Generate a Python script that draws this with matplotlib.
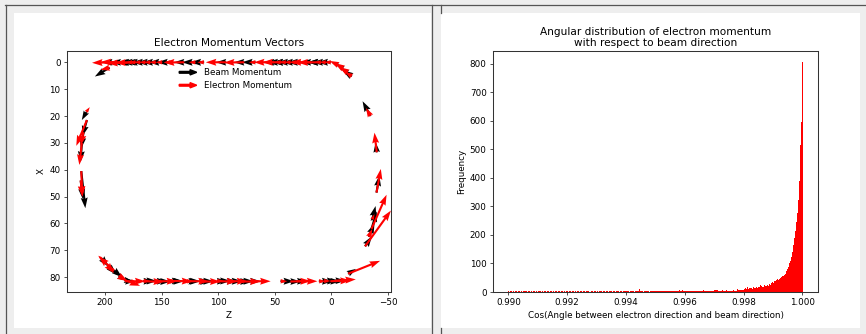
import numpy as np
import matplotlib
matplotlib.use('Agg')
import matplotlib.pyplot as plt
import matplotlib.patches as mpatches
from matplotlib.lines import Line2D
from matplotlib.legend_handler import HandlerPatch

# ---- momentum vectors: hit position (Z, X) and momentum components (dZ, dX)
# groups: top row, top-left, left side, bottom-left bend, bottom row, right side, top-right bend
pos_z = [193.5, 186, 180, 176, 173, 173, 168.5, 164, 159.7, 155, 149.4, 142, 130, 120, 112.5,
         93, 77, 67, 50.5, 44.6, 43, 40, 35.8, 31.4, 27, 18, 12, 9, 4.8, 0.4,
         196,
         216.5, 216, 219, 220.5, 221, 221.5,
         203, 198, 192, 188, 183,
         182.3, 166, 166, 154.3, 154, 142.4, 141, 127.7, 126.3, 116, 115.9, 101.2, 101,
         92.3, 90.8, 80.6, 80.5, 71.7, 45, 36.3, 30.4, 11.1, 6.7, 1, -3.5,
         -14.7, -29.7, -35.4, -33, -36, -39.8, -40, -34.5,
         -18, -14.5, -10.5, -6]
pos_x = [0, 0, 0.1, 0, 0, 0, 0, 0, 0, 0, 0, 0, 0, 0, 0,
         0, 0, 0, 0, 0, 0, 0, 0, 0, 0, 0, 0, 0, 0, 0,
         2.0,
         18.5, 21.5, 26, 30, 40.5, 44,
         73, 75.5, 77.5, 79.5, 81,
         81.5, 81.5, 81.4, 81.5, 81.6, 81.5, 81.4, 81.5, 81.5, 81.6, 81.5, 81.5, 81.4,
         81.5, 81.5, 81.6, 81.5, 81.5, 81.5, 81.6, 81.5, 81.5, 81.4, 81.5, 81.3,
         78.7, 68.5, 62, 65, 58.5, 48.5, 33.5, 20,
         5.2, 3.8, 2.3, 1.0]
beam_dz = [9, 9, 9, 12, 9, 12, 12, 12, 12, 12, 12, 12, 9, 12, 12,
           9, 9, 12, 9, 12, 9, 12, 12, 12, 12, 9, 9, 12, 12, 12,
           13,
           4, 4, 2, 1, -3.6, -2,
           -6, -8, -7, -7, -8,
           -9, -9, -12, -9, -12, -12, -9, -12, -9, -9, -12, -9, -12,
           -9, -12, -9, -12, -9, -12, -9, -9, -12, -12, -9, -9,
           -7, -6, -4.6, -5, -3, -2.5, 1, 7,
           8, 6, 6, 6]
beam_dx = [0, 0, 0, 0, 0, 0, 0, 0, 0, 0, 0, 0, 0, 0, 0,
           0, 0, 0, 0, 0, 0, 0, 0, 0, 0, 0, 0, 0, 0, 0,
           3.3,
           3, 6, 6, 7, 13.8, 7,
           3, 3.5, 2.5, 1.8, 0.7,
           0, 0, 0, 0, 0, 0, 0, 0, 0, 0, 0, 0, 0,
           0, 0, 0, 0, 0, 0, 0, 0, 0, 0, 0, 0,
           -1.8, -3.7, -6.5, -5, -5, -6.3, -3.7, -5.5,
           -2.2, -1.5, -1.5, -1.0]
elec_dz = [18, 18, 18, 6, 18, 6, 6, 6, 6, 6, 6, 6, 18, 6, 6,
           18, 18, 6, 18, 6, 18, 6, 6, 6, 6, 18, 18, 6, 6, 6,
           8,
           -3, 9.4, 2.5, 2.2, -1, -1.5,
           3, -6, 13.7, -8, -14,
           -18, -18, -6, -18, -6, -6, -18, -6, -18, -18, -6, -18, -6,
           -18, -6, -18, -6, -18, -6, -18, -18, -6, -6, -18, -18,
           -28.3, -22.8, -13.3, -3, -2, -3.8, 2, 4,
           6, 7.5, 7.5, 7.5]
elec_dx = [0.2, -0.1, 0.3, 0, 0.2, 0, 0, 0, 0, 0, 0, 0, 0.1, 0, 0,
           0, 0.1, 0, 0, 0, 0, 0, 0, 0, 0, 0, 0.1, 0, 0, 0,
           0.8,
           -1.8, 9.6, 5, 8.2, 9.5, 6,
           -1, 3, -5.2, 2, 2.2,
           0, 0.2, 0, 0, 0, 0, 0.1, 0, 0, 0, 0, 0.1, 0,
           0, 0, 0, 0, 0, 0, -0.2, 0, 0, 0, -0.3, -0.5,
           -4.8, -13.3, -12.7, -3, -2, -8.8, -7.3, -3,
           -1.6, -2.0, -2.0, -1.5]

# ---- histogram of cos(angle between electron and beam), 300 bins
cos_lo = 0.98998
cos_hi = 1.00003
cos_counts = [
    2, 1, 2, 2, 1, 2, 1, 2, 2, 1, 2, 2, 1, 2, 1, 2, 2, 1, 2, 2,
    1, 2, 2, 1, 2, 1, 2, 2, 1, 2, 1, 2, 2, 2, 1, 2, 1, 5, 2, 1,
    2, 2, 1, 2, 2, 1, 2, 1, 2, 2, 1, 2, 2, 1, 2, 2, 1, 2, 1, 2,
    2, 1, 2, 2, 1, 2, 2, 1, 2, 1, 2, 2, 1, 2, 2, 1, 2, 2, 1, 2,
    2, 2, 1, 2, 1, 2, 2, 1, 2, 2, 1, 2, 1, 2, 2, 2, 1, 2, 2, 1,
    2, 2, 1, 2, 2, 2, 1, 2, 2, 1, 2, 2, 2, 1, 2, 2, 1, 2, 2, 2,
    4, 2, 2, 1, 2, 2, 2, 2, 1, 2, 2, 2, 2, 9, 5, 2, 2, 1, 2, 2,
    2, 2, 2, 1, 2, 2, 3, 2, 2, 2, 1, 2, 2, 3, 2, 2, 2, 2, 3, 2,
    4, 2, 2, 3, 2, 4, 2, 3, 5, 2, 3, 2, 5, 3, 8, 2, 3, 6, 2, 3,
    5, 3, 2, 3, 5, 5, 3, 3, 3, 4, 3, 3, 3, 3, 3, 3, 3, 3, 6, 3,
    3, 3, 3, 3, 3, 3, 3, 3, 3, 7, 7, 6, 7, 3, 3, 3, 4, 4, 6, 4,
    4, 4, 6, 4, 5, 5, 5, 5, 5, 6, 5, 5, 5, 10, 6, 6, 6, 6, 7, 8,
    10, 15, 10, 18, 12, 15, 13, 15, 12, 16, 14, 14, 16, 15, 16, 17, 24, 20, 19, 18,
    25, 22, 20, 26, 22, 28, 25, 30, 35, 32, 40, 38, 42, 45, 43, 44, 50, 52, 55, 56,
    58, 62, 66, 72, 80, 86, 100, 110, 124, 140, 165, 190, 215, 245, 276, 322, 389, 516, 596, 805,
]

W, H = 866, 334
fig = plt.figure(figsize=(W / 100, H / 100), dpi=100, facecolor='#eeeeee')


def fx(px):
    return px / W


def fy(py):
    return 1 - py / H


# page background: two white cells and the dark frame lines
for x0, x1 in [(14, 431), (441, 860)]:
    fig.add_artist(mpatches.Rectangle((fx(x0), fy(328)), fx(x1) - fx(x0), fy(13) - fy(328),
                                      transform=fig.transFigure, facecolor='white',
                                      edgecolor='none', zorder=0))
frame = [((5, 866), (4.5, 4.5)), ((5.5, 5.5), (4.5, 334)), ((432.3, 432.3), (4.5, 334)),
         ((441, 441), (4.5, 13)), ((441, 441), (328, 334))]
for xs, ys in frame:
    fig.add_artist(Line2D([fx(xs[0]), fx(xs[1])], [fy(ys[0]), fy(ys[1])],
                          transform=fig.transFigure, color='#555555', lw=0.9))

fs = 6.3
plt.rcParams.update({'font.size': fs, 'axes.linewidth': 0.75, 'axes.edgecolor': '#333333',
                     'xtick.major.size': 2.4, 'ytick.major.size': 2.4,
                     'xtick.major.width': 0.6, 'ytick.major.width': 0.6,
                     'xtick.major.pad': 2.2, 'ytick.major.pad': 2.2,
                     'xtick.color': '#333333', 'ytick.color': '#333333',
                     'xtick.labelcolor': 'black', 'ytick.labelcolor': 'black'})

# ---- left: momentum vectors
ax1 = fig.add_axes([fx(67), fy(292), fx(391) - fx(67), fy(51) - fy(292)])
ax1.quiver(pos_z, pos_x, beam_dz, beam_dx, color='black', angles='xy',
           scale_units='xy', scale=1, width=0.0065, headwidth=3.3)
ax1.quiver(pos_z, pos_x, elec_dz, elec_dx, color='red', angles='xy',
           scale_units='xy', scale=1, width=0.0065, headwidth=3.3)
ax1.set_xlim(233.6, -52.6)
ax1.set_ylim(85.5, -4.2)
ax1.set_xticks([200, 150, 100, 50, 0, -50])
ax1.set_yticks(range(0, 81, 10))
ax1.set_xlabel('Z', labelpad=2.5)
ax1.set_ylabel('X', labelpad=2.5)
ax1.set_title('Electron Momentum Vectors', fontsize=7.6, pad=3.8)


def arrow_handle(legend, orig_handle, xdescent, ydescent, width, height, fontsize):
    return mpatches.FancyArrow(0, 0.5 * height, width, 0, width=0.28 * height,
                               head_width=0.85 * height, head_length=0.38 * width,
                               length_includes_head=True)


proxies = [mpatches.Patch(color='black', label='Beam Momentum'),
           mpatches.Patch(color='red', label='Electron Momentum')]
ax1.legend(handles=proxies, loc='upper center', bbox_to_anchor=(0.52, (292 - 64) / 241),
           frameon=False, fontsize=fs, borderpad=0, labelspacing=0.45,
           handler_map={mpatches.Patch: HandlerPatch(patch_func=arrow_handle)})

# ---- right: angular distribution
ax2 = fig.add_axes([fx(493), fy(292), fx(818) - fx(493), fy(51) - fy(292)])
edges = np.linspace(cos_lo, cos_hi, len(cos_counts) + 1)
ax2.hist(edges[:-1], bins=edges, weights=cos_counts, color='red')
ax2.set_xticks([0.990, 0.992, 0.994, 0.996, 0.998, 1.000])
ax2.set_xticklabels(['0.990', '0.992', '0.994', '0.996', '0.998', '1.000'])
ax2.set_yticks(range(0, 801, 100))
ax2.set_xlabel('Cos(Angle between electron direction and beam direction)', labelpad=2.5)
ax2.set_ylabel('Frequency', labelpad=2.5)
ax2.set_title('Angular distribution of electron momentum\nwith respect to beam direction',
              fontsize=7.6, pad=3.8, linespacing=1.1)

plt.savefig('out.png', dpi=100, facecolor=fig.get_facecolor())
